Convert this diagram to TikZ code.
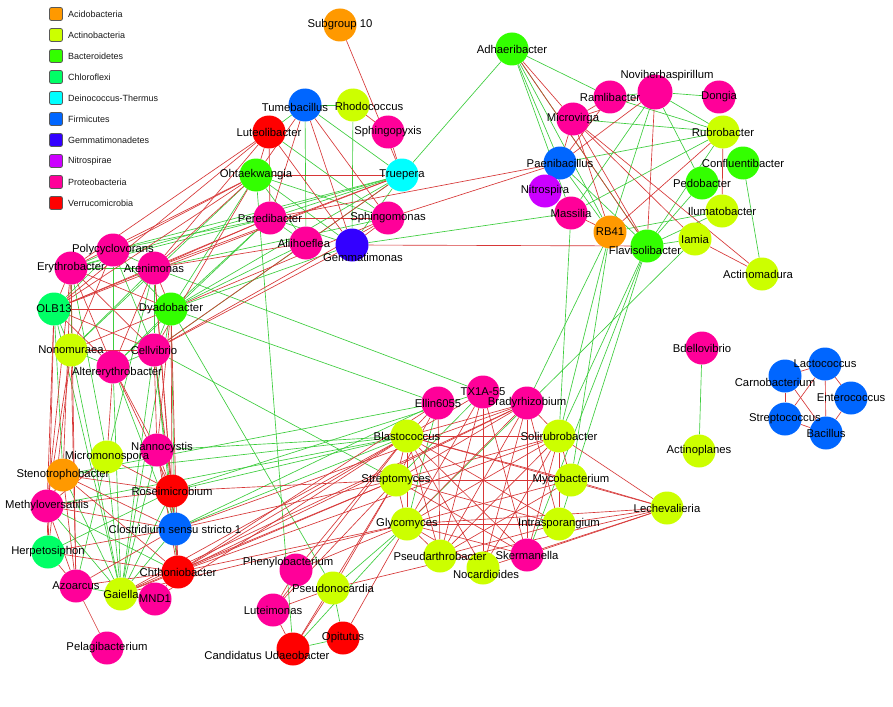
\documentclass[tikz,border=0pt]{standalone}
\usepackage{fontspec}
\setmainfont{Liberation Sans}
\usetikzlibrary{positioning,calc}
\usepackage{xcolor}
\definecolor{Acido}{HTML}{FF9900}
\definecolor{Actino}{HTML}{CCFF00}
\definecolor{Bactero}{HTML}{33FF00}
\definecolor{Chloro}{HTML}{00FF66}
\definecolor{Deino}{HTML}{00FFFF}
\definecolor{Firmi}{HTML}{0066FF}
\definecolor{Gemma}{HTML}{3300FF}
\definecolor{Nitro}{HTML}{CC00FF}
\definecolor{Proteo}{HTML}{FF0099}
\definecolor{Verru}{HTML}{FF0000}
\definecolor{EdgeGreen}{RGB}{60,205,60}
\definecolor{EdgeRed}{RGB}{215,55,55}
\pgfdeclarelayer{bg}
\pgfdeclarelayer{fg}
\pgfsetlayers{bg,main,fg}
\newcommand{\taxon}[7]{%
  \node[taxnode,fill=#4] (#1) at (#2,#3) {};
  \begin{pgfonlayer}{fg}
    \node[taxlab] (#1-t) at ([shift={(#6,#7)}]#1) {#5};
  \end{pgfonlayer}}
\newcommand{\links}[2]{\foreach \src/\dst in {#2}{\draw[#1] (\src) -- (\dst);}}
\tikzset{
  taxnode/.style={circle,draw=none,minimum size=33pt,inner sep=0pt},
  taxlab/.style={font=\fontsize{11.3}{13}\selectfont,text=black,inner sep=0pt},
  gedge/.style={EdgeGreen,line width=.65pt},
  redge/.style={EdgeRed,line width=.65pt},
  legbox/.style={rectangle,rounded corners=2pt,draw=black!65,line width=.8pt,
                 minimum size=13pt,inner sep=0pt},
  legtext/.style={font=\fontsize{9}{11}\selectfont,text=black!90,inner sep=0pt},
}

\begin{document}
\begin{tikzpicture}[x=1pt,y=-1pt]
  \useasboundingbox (0,0) rectangle (893,706);
  \begin{pgfonlayer}{bg}
    \fill[white] (0,0) rectangle (893,706);
  \end{pgfonlayer}

  % legend
  \foreach \c/\t [count=\i from 0] in {Acido/Acidobacteria,Actino/Actinobacteria,
      Bactero/Bacteroidetes,Chloro/Chloroflexi,Deino/Deinococcus-Thermus,
      Firmi/Firmicutes,Gemma/Gemmatimonadetes,Nitro/Nitrospirae,
      Proteo/Proteobacteria,Verru/Verrucomicrobia}{
    \node[legbox,fill=\c] (key\i) at (56,{14+21*\i}) {};
    \node[legtext,right=5pt of key\i] (keyt\i) {\t};
  }

  % top cluster
  \taxon{sgten}{340}{25}{Acido}{Subgroup 10}{0}{0}
  \taxon{tume}{305}{105}{Firmi}{Tumebacillus}{-10}{2}
  \taxon{rhodo}{353}{105}{Actino}{Rhodococcus}{16}{1}
  \taxon{luteo}{269}{132}{Verru}{Luteolibacter}{0}{0}
  \taxon{sphpy}{388}{132}{Proteo}{Sphingopyxis}{0}{0}
  \taxon{ohta}{256}{175}{Bactero}{Ohtaekwangia}{0}{0}
  \taxon{truep}{402}{175}{Deino}{Truepera}{0}{0}
  \taxon{pered}{270}{218}{Proteo}{Peredibacter}{0}{0}
  \taxon{sphmo}{388}{218}{Proteo}{Sphingomonas}{0}{0}
  \taxon{alii}{306}{243}{Proteo}{Aliihoeflea}{-2}{0}
  \taxon{gemm}{352}{245}{Gemma}{Gemmatimonas}{11}{12}

  % top right cluster
  \taxon{adhae}{512}{49}{Bactero}{Adhaeribacter}{0}{0}
  \taxon{ramli}{610}{97}{Proteo}{Ramlibacter}{0}{0}
  \taxon{novih}{655}{92}{Proteo,minimum size=35pt}{Noviherbaspirillum}{12}{-16}
  \taxon{dongia}{719}{97}{Proteo}{Dongia}{0}{0}
  \taxon{microv}{573}{119}{Proteo}{Microvirga}{0}{0}
  \taxon{rubro}{723}{132}{Actino}{Rubrobacter}{0}{0}
  \taxon{paeni}{560}{163}{Firmi}{Paenibacillus}{0}{0}
  \taxon{conflu}{743}{163}{Bactero}{Confluentibacter}{0}{0}
  \taxon{nitros}{545}{191}{Nitro}{Nitrospira}{0}{0}
  \taxon{pedob}{702}{183}{Bactero}{Pedobacter}{0}{0}
  \taxon{massil}{571}{213}{Proteo}{Massilia}{0}{0}
  \taxon{iluma}{722}{211}{Actino}{Ilumatobacter}{0}{0}
  \taxon{rbfo}{610}{232}{Acido}{RB41}{0}{0}
  \taxon{iamia}{695}{239}{Actino}{Iamia}{0}{0}
  \taxon{flavi}{647}{246}{Bactero}{Flavisolibacter}{-2}{4}
  \taxon{actmad}{762}{274}{Actino}{Actinomadura}{-4}{0}

  % left cluster
  \taxon{polyc}{113}{250}{Proteo}{Polycyclovorans}{0}{0}
  \taxon{eryth}{71}{268}{Proteo}{Erythrobacter}{0}{0}
  \taxon{arenim}{154}{268}{Proteo}{Arenimonas}{0}{0}
  \taxon{olb}{54}{309}{Chloro}{OLB13}{0}{0}
  \taxon{dyado}{171}{309}{Bactero}{Dyadobacter}{0}{0}
  \taxon{nonom}{71}{350}{Actino}{Nonomuraea}{0}{0}
  \taxon{cellv}{154}{350}{Proteo}{Cellvibrio}{0}{0}
  \taxon{alter}{113}{367}{Proteo}{Altererythrobacter}{4}{6}

  % bottom left cluster
  \taxon{nanno}{157}{450}{Proteo}{Nannocystis}{5}{-2}
  \taxon{micro}{107}{457}{Actino}{Micromonospora}{0}{0}
  \taxon{steno}{63}{475}{Acido}{Stenotrophobacter}{0}{0}
  \taxon{rosei}{172}{491}{Verru}{Roseimicrobium}{0}{0}
  \taxon{methyl}{47}{506}{Proteo}{Methyloversatilis}{0}{0}
  \taxon{clost}{175}{529}{Firmi}{Clostridium sensu stricto 1}{0}{0}
  \taxon{herpe}{48}{552}{Chloro}{Herpetosiphon}{0}{0}
  \taxon{chtho}{178}{572}{Verru}{Chthoniobacter}{0}{0}
  \taxon{azoar}{76}{586}{Proteo}{Azoarcus}{0}{0}
  \taxon{gaiel}{121}{594}{Actino}{Gaiella}{0}{0}
  \taxon{mnd}{155}{599}{Proteo}{MND1}{0}{0}
  \taxon{pelag}{107}{648}{Proteo}{Pelagibacterium}{0}{0}

  % bottom centre cluster
  \taxon{ellin}{438}{403}{Proteo}{Ellin6055}{0}{0}
  \taxon{txa}{483}{392}{Proteo}{TX1A-55}{0}{0}
  \taxon{brady}{527}{403}{Proteo}{Bradyrhizobium}{0}{0}
  \taxon{blasto}{407}{436}{Actino}{Blastococcus}{0}{0}
  \taxon{solir}{559}{436}{Actino}{Solirubrobacter}{0}{0}
  \taxon{strepto}{396}{480}{Actino}{Streptomyces}{0}{0}
  \taxon{mycob}{571}{480}{Actino}{Mycobacterium}{0}{0}
  \taxon{glyco}{407}{524}{Actino}{Glycomyces}{0}{0}
  \taxon{intra}{559}{524}{Actino}{Intrasporangium}{0}{0}
  \taxon{leche}{667}{508}{Actino}{Lechevalieria}{0}{0}
  \taxon{parth}{440}{556}{Actino}{Pseudarthrobacter}{0}{0}
  \taxon{nocar}{483}{568}{Actino}{Nocardioides}{3}{6}
  \taxon{skerm}{527}{555}{Proteo}{Skermanella}{0}{0}
  \taxon{pheny}{296}{570}{Proteo}{Phenylobacterium}{-8}{-7}
  \taxon{pseudo}{333}{588}{Actino}{Pseudonocardia}{0}{0}
  \taxon{lutei}{273}{610}{Proteo}{Luteimonas}{0}{0}
  \taxon{opitu}{343}{638}{Verru}{Opitutus}{0}{0}
  \taxon{candu}{293}{649}{Verru}{Candidatus Udaeobacter}{-26}{6}

  % small groups on the right
  \taxon{bdell}{702}{348}{Proteo}{Bdellovibrio}{0}{0}
  \taxon{actpl}{699}{451}{Actino}{Actinoplanes}{0}{0}
  \taxon{lacto}{825}{364}{Firmi}{Lactococcus}{0}{0}
  \taxon{carno}{785}{376}{Firmi}{Carnobacterium}{-10}{6}
  \taxon{entero}{851}{398}{Firmi}{Enterococcus}{0}{0}
  \taxon{strepc}{785}{419}{Firmi}{Streptococcus}{0}{0}
  \taxon{bacil}{826}{433}{Firmi}{Bacillus}{0}{0}

  \begin{pgfonlayer}{bg}
  % positive links
  \links{gedge}{tume/rhodo,rhodo/gemm,tume/alii,tume/truep,luteo/sphmo,ohta/gemm,
    ohta/alii,pered/truep,alii/truep,gemm/truep,pered/gemm,pered/alii,ohta/sphmo,
    tume/luteo,adhae/truep,gemm/massil,ohta/candu,pered/alter}
  \links{gedge}{ohta/dyado,pered/eryth,pered/dyado,truep/eryth,truep/dyado,
    alii/dyado,alii/cellv,gemm/dyado,sphmo/arenim,ohta/nonom,pered/polyc,truep/polyc}
  \links{gedge}{polyc/eryth,polyc/arenim,polyc/alter,polyc/olb,polyc/dyado,
    eryth/nonom,arenim/cellv,olb/nonom,dyado/cellv,dyado/alter,cellv/alter,
    nonom/alter,eryth/arenim,arenim/nonom,polyc/cellv}
  \links{gedge}{arenim/txa,dyado/ellin,cellv/strepto,dyado/pseudo,
    olb/steno,nonom/gaiel,alter/gaiel,cellv/gaiel,olb/gaiel,alter/clost,cellv/clost,
    dyado/clost,arenim/micro,eryth/micro,dyado/gaiel,cellv/chtho}
  \links{gedge}{methyl/gaiel,gaiel/clost,gaiel/rosei,gaiel/micro,gaiel/nanno,
    gaiel/steno,azoar/gaiel,methyl/chtho,micro/azoar,herpe/rosei,
    rosei/blasto,clost/blasto,methyl/blasto,steno/blasto,nanno/blasto,steno/ellin,
    clost/ellin,rosei/txa}
  \links{gedge}{txa/strepto,glyco/pseudo,pseudo/opitu,candu/opitu,glyco/candu,
    ellin/glyco,rbfo/solir,flavi/solir,massil/solir,rbfo/mycob,flavi/intra,
    iamia/glyco,flavi/skerm,rbfo/brady}
  \links{gedge}{adhae/ramli,adhae/paeni,adhae/rbfo,adhae/massil,adhae/flavi,
    novih/rbfo,novih/massil,novih/dongia,ramli/novih,novih/rubro,microv/rubro,
    paeni/rubro,paeni/rbfo,paeni/flavi,rubro/flavi,massil/rubro,conflu/actmad,
    pedob/flavi,iluma/rbfo,iluma/flavi,iamia/flavi,ramli/rubro,novih/pedob,
    bdell/actpl}
  % negative links
  \links{redge}{sgten/truep,rhodo/sphpy,tume/ohta,tume/pered,tume/gemm,tume/sphmo,
    luteo/ohta,ohta/truep,pered/sphmo,sphpy/truep,gemm/sphmo,luteo/pered,luteo/gemm,
    pered/paeni,sphmo/paeni,gemm/flavi}
  \links{redge}{ohta/eryth,ohta/arenim,ohta/polyc,ohta/olb,ohta/cellv,pered/arenim,
    pered/olb,truep/arenim,truep/olb,truep/cellv,gemm/cellv,luteo/eryth,
    luteo/arenim,luteo/olb,sphmo/cellv,alii/arenim,sphmo/dyado}
  \links{redge}{eryth/olb,eryth/dyado,eryth/cellv,arenim/olb,arenim/dyado,olb/dyado,
    olb/cellv,nonom/cellv,eryth/alter,dyado/nonom,olb/alter,polyc/nonom,arenim/alter}
  \links{redge}{eryth/steno,eryth/methyl,olb/methyl,nonom/methyl,nonom/herpe,
    cellv/nanno,cellv/rosei,dyado/rosei,dyado/chtho,arenim/rosei,alter/nanno,
    alter/rosei,nonom/azoar,eryth/azoar,olb/herpe,alter/micro,dyado/nanno,arenim/chtho}
  \links{redge}{steno/rosei,steno/clost,methyl/rosei,methyl/clost,methyl/herpe,
    methyl/azoar,herpe/clost,herpe/azoar,azoar/pelag,azoar/chtho,azoar/clost,
    gaiel/chtho,micro/rosei,nanno/rosei,nanno/chtho,steno/azoar,clost/rosei,
    chtho/clost,steno/chtho,steno/methyl,mnd/chtho,herpe/chtho,micro/methyl,nanno/clost}
  \links{redge}{chtho/blasto,chtho/strepto,chtho/glyco,chtho/brady,chtho/ellin,
    chtho/solir,clost/strepto,clost/brady,gaiel/blasto,gaiel/strepto,gaiel/brady,
    gaiel/glyco,rosei/strepto,mnd/blasto}
  \links{redge}{ellin/blasto,ellin/strepto,txa/blasto,txa/glyco,txa/parth,
    brady/blasto,brady/strepto,brady/glyco,brady/parth,brady/nocar,brady/solir,
    brady/intra,brady/skerm,blasto/solir,blasto/strepto,blasto/glyco,blasto/mycob,
    blasto/intra,blasto/skerm,blasto/nocar,blasto/parth,blasto/leche,strepto/glyco,
    strepto/solir,strepto/intra,strepto/skerm,strepto/mycob,glyco/solir,glyco/mycob,
    glyco/intra,glyco/leche,glyco/skerm,glyco/parth,glyco/nocar,solir/mycob,
    solir/intra,solir/leche,solir/skerm,solir/nocar,solir/parth,mycob/leche,
    intra/leche,skerm/leche,nocar/leche,intra/parth,txa/nocar,ellin/parth,
    mycob/parth,txa/skerm}
  \links{redge}{pheny/lutei,pseudo/lutei,pseudo/candu,candu/lutei,strepto/pseudo,
    strepto/candu,glyco/opitu,pseudo/leche,strepto/lutei,blasto/lutei,glyco/pheny,
    blasto/pheny}
  \links{redge}{novih/microv,novih/paeni,ramli/microv,adhae/microv,adhae/flavi,
    microv/flavi,microv/iamia,microv/actmad,rubro/rbfo,rubro/iluma,iamia/actmad,
    novih/flavi,massil/rbfo,ramli/paeni,microv/paeni,microv/rbfo}
  \links{redge}{carno/lacto,lacto/entero,entero/bacil,lacto/bacil,carno/strepc,
    strepc/bacil,carno/bacil,strepc/lacto}
  \end{pgfonlayer}
\end{tikzpicture}
\end{document}
